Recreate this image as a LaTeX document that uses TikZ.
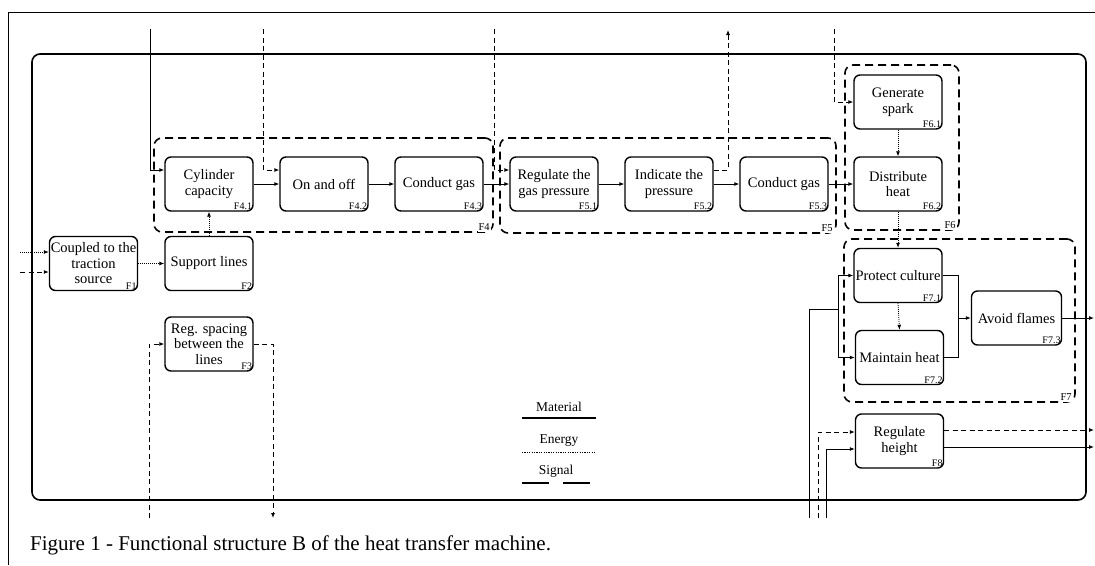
\documentclass[tikz,border=0pt]{standalone}
\usepackage{fontspec}
\setmainfont{Liberation Serif}
\usetikzlibrary{arrows.meta}
\newcommand\fsz[2]{\fontsize{#1pt}{#2pt}\selectfont}
\tikzset{
  fb/.style={draw, line width=1.4pt, rounded corners=6pt, minimum width=88pt, minimum height=54pt, inner sep=0pt, align=center, font=\fsz{14.5}{15.5}},
  lab/.style={anchor=south east, inner sep=1.5pt, font=\fsz{10}{10}},
  glab/.style={anchor=south east, inner sep=1pt, fill=white, font=\fsz{10.5}{10.5}},
  grp/.style={draw, line width=1.6pt, dash pattern=on 8pt off 5pt, rounded corners=8pt, inner sep=0pt},
  mat/.style={line width=0.9pt, -{Latex[length=5pt,width=4pt]}},
  plain/.style={line width=0.9pt},
  sig/.style={mat, dash pattern=on 5pt off 3.5pt},
  ene/.style={mat, line width=0.8pt, dash pattern=on 1pt off 1pt},
}
\begin{document}
\begin{tikzpicture}[x=1pt,y=-1pt]
\useasboundingbox (0,0) rectangle (1095,565);
% outer thin frame
\draw[line width=0.8pt] (8,565) -- (8,12) -- (1095,12);
% main frame
\draw[line width=1.6pt, rounded corners=8pt] (32,54) rectangle (1086,500);

% groups
\node[grp, minimum width=339pt, minimum height=94pt] (g4) at (323.5,185) {};
\node[grp, minimum width=336pt, minimum height=95pt] (g5) at (668,185.5) {};
\node[grp, minimum width=114pt, minimum height=165pt] (g6) at (902,147.5) {};
\node[grp, minimum width=231pt, minimum height=163pt] (g7) at (959.5,320.5) {};
\node[glab] at ([xshift=-3pt,yshift=1pt]g4.south east) {F4};
\node[glab] at ([xshift=-3pt,yshift=1pt]g5.south east) {F5};
\node[glab] at ([xshift=-3pt,yshift=1pt]g6.south east) {F6};
\node[glab] at ([xshift=-3pt,yshift=1pt]g7.south east) {F7};

% function boxes
\node[fb, fill=white] (f1) at (93.5,263.5) {Coupled to the\\traction\\source};
\node[fb, fill=white] (f2) at (209,263.5) {Support lines};
\node[fb, fill=white] (f3) at (209,344) {Reg. spacing\\between the\\lines};
\node[fb, fill=white] (f41) at (209,184) {Cylinder\\capacity};
\node[fb, fill=white] (f42) at (324,184) {On and off};
\node[fb, fill=white] (f43) at (439,184) {Conduct gas};
\node[fb, fill=white] (f51) at (554,184) {Regulate the\\gas pressure};
\node[fb, fill=white] (f52) at (669,184) {Indicate the\\pressure};
\node[fb, fill=white] (f53) at (784,184) {Conduct gas};
\node[fb, fill=white] (f61) at (898,102) {Generate\\spark};
\node[fb, fill=white] (f62) at (898,184) {Distribute\\heat};
\node[fb, fill=white] (f71) at (898,275.5) {Protect culture};
\node[fb, fill=white] (f72) at (899.5,357.5) {Maintain heat};
\node[fb, fill=white, minimum width=90pt] (f73) at (1016.5,318) {Avoid flames};
\node[fb, fill=white] (f8) at (899.5,441) {Regulate\\height};

\node[lab] at (f1.south east) {F1};
\node[lab] at (f2.south east) {F2};
\node[lab] at (f3.south east) {F3};
\node[lab] at (f41.south east) {F4.1};
\node[lab] at (f42.south east) {F4.2};
\node[lab] at (f43.south east) {F4.3};
\node[lab] at (f51.south east) {F5.1};
\node[lab] at (f52.south east) {F5.2};
\node[lab] at (f53.south east) {F5.3};
\node[lab] at (f61.south east) {F6.1};
\node[lab] at (f62.south east) {F6.2};
\node[lab] at (f71.south east) {F7.1};
\node[lab] at (f72.south east) {F7.2};
\node[lab] at (f73.south east) {F7.3};
\node[lab] at (f8.south east) {F8};

% free ends
\coordinate (inA) at (150,29);
\coordinate (inB) at (263,29);
\coordinate (inC) at (494,29);
\coordinate (outA) at (728,30);
\coordinate (inD) at (834,29);
\coordinate (inE) at (20,252);
\coordinate (inF) at (20,272);
\coordinate (inG) at (149,518);
\coordinate (outB) at (273,518);
\coordinate (inH) at (809,518);
\coordinate (j7) at (838,309);
\coordinate (j8) at (958,318);
\coordinate (outC) at (1094,318);
\coordinate (inI) at (818,518);
\coordinate (inJ) at (826,518);
\coordinate (outD) at (1094,430);
\coordinate (outE) at (1094,447);

% connectors
\draw[mat] (inA) |- (f41.west |- 0,170);
\draw[sig] (inB) |- (f42.west |- 0,170);
\draw[mat] (f41.east) -- (f42.west);
\draw[mat] (f42.east) -- (f43.west);
\draw[sig] (inC) |- (f51.west |- 0,170);
\draw[mat] (f43.east) -- (f51.west);
\draw[mat] (f51.east) -- (f52.west);
\draw[sig] (f52.east |- 0,170) -| (outA);
\draw[mat] (f52.east) -- (f53.west);
\draw[mat] (f53.east) -- (f62.west);
\draw[sig] (inD) |- (f61.west);
\draw[ene] (f61.south) -- (f62.north);
\draw[ene] (f62.south) -- (f71.north);
\draw[ene] (inE) -- (f1.west |- 0,252);
\draw[sig] (inF) -- (f1.west |- 0,272);
\draw[ene] (f1.east) -- (f2.west);
\draw[ene] (f2.north) -- (f41.south);
\draw[sig] (inG) |- (f3.west);
\draw[sig] (f3.east) -| (outB);
\draw[plain] (inH) |- (j7);
\draw[mat] (j7) |- (f71.west);
\draw[mat] (j7) |- (f72.west);
\draw[ene] (f71.south) -- (f72.north);
\draw[plain] (f71.east) -| (j8);
\draw[plain] (f72.east) -| (j8);
\draw[mat] (j8) -- (f73.west);
\draw[mat] (f73.east) -- (outC);
\draw[sig] (inI) |- (f8.west |- 0,432);
\draw[mat] (inJ) |- (f8.west |- 0,449);
\draw[sig] (f8.east |- 0,430) -- (outD);
\draw[mat] (f8.east |- 0,447) -- (outE);

% legend
\node[font=\fsz{13.5}{13.5}, anchor=base] (lm) at (559,411) {Material};
\draw[line width=1.5pt] (522,418) -- (596,418);
\node[font=\fsz{13.5}{13.5}, anchor=base] (le) at (559,443) {Energy};
\draw[line width=1pt, dash pattern=on 1.2pt off 1.2pt] (522,452) -- (596,452);
\node[font=\fsz{13.5}{13.5}, anchor=base] (ls) at (556,474) {Signal};
\draw[line width=1.5pt] (522,483) -- (549,483);
\draw[line width=1.5pt] (563,483) -- (590,483);

% caption
\node[anchor=base west, inner sep=0pt, font=\fsz{21}{21}] (cap) at (30,550) {Figure 1 - Functional structure B of the heat transfer machine.};
\end{tikzpicture}
\end{document}
